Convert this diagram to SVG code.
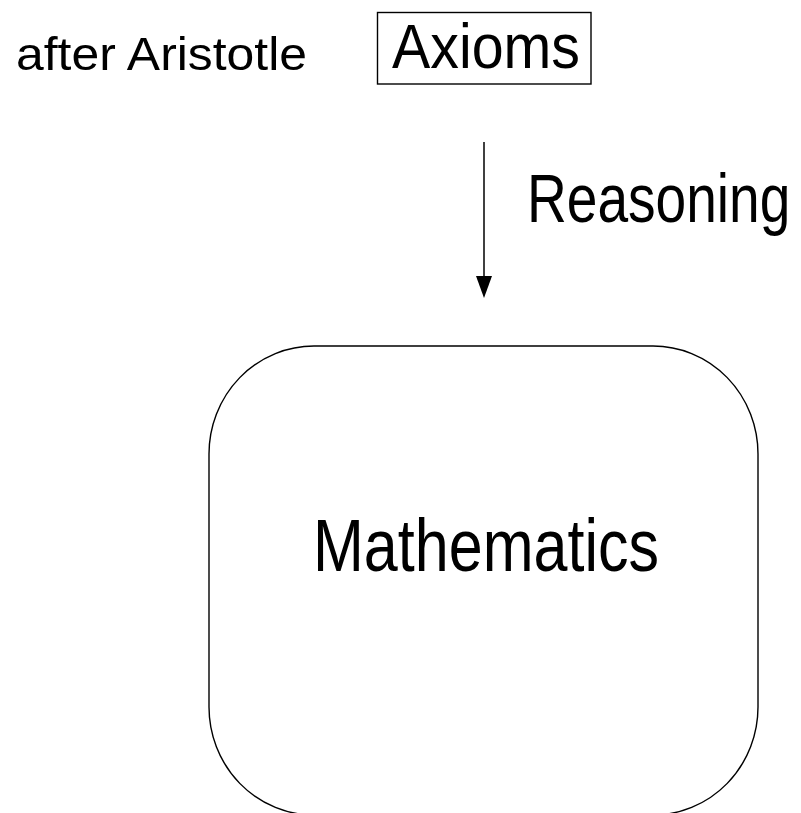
<svg xmlns="http://www.w3.org/2000/svg" width="801" height="813" viewBox="0 0 801 813">
  <style>
    .t { font-family: "Liberation Sans", Arial, sans-serif; fill: #000; }
    .box { fill: none; stroke: #000; stroke-width: 1.4; }
    .edge { fill: none; stroke: #000; stroke-width: 1.5; }
  </style>
  <rect width="801" height="813" fill="#fff"/>
  <g id="label-after-aristotle">
    <text class="t" x="16" y="70" font-size="47" textLength="291" lengthAdjust="spacingAndGlyphs">after Aristotle</text>
  </g>
  <g id="node-axioms">
    <rect class="box" x="377.5" y="12.5" width="213.5" height="71.5"/>
    <text class="t" x="392" y="68" font-size="63" textLength="188" lengthAdjust="spacingAndGlyphs">Axioms</text>
  </g>
  <g id="connectors">
    <line class="edge" x1="484" y1="142" x2="484" y2="280"/>
    <path d="M476,276 L492,276 L484,298 Z" fill="#000"/>
    <text class="t" transform="translate(527,222) scale(0.81,1)" x="0" y="0" font-size="68">Reasoning</text>
  </g>
  <g id="node-mathematics">
    <rect class="box" x="209" y="346" width="549" height="469" rx="105" ry="108"/>
    <text class="t" x="313" y="571" font-size="75" textLength="346" lengthAdjust="spacingAndGlyphs">Mathematics</text>
  </g>
</svg>
